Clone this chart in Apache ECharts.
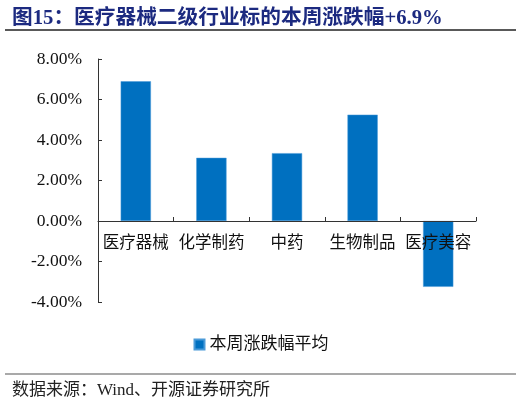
<!DOCTYPE html>
<html>
<head>
<meta charset="utf-8">
<title>医疗器械二级行业标的本周涨跌幅</title>
<script src="https://cdn.jsdelivr.net/npm/echarts@6/dist/echarts.min.js"></script>
<style>
    html, body { margin: 0; padding: 0; background: #fff; }
    #chart { width: 522px; height: 404px; }
</style>
</head>
<body>
<div id="chart"></div>
<script>
// 数据
var categories = ['医疗器械', '化学制药', '中药', '生物制品', '医疗美容'];
var weekChange = [6.9, 3.12, 3.35, 5.25, -3.25]; // 本周涨跌幅平均(%)
var seriesName = '本周涨跌幅平均';
var yTicks = { min: -4, max: 8, interval: 2 };

var serif = '"Liberation Serif", "Noto Sans CJK SC", serif';
var barColor = '#0070C0';

// 绘图区
var gridTop = 59, gridBottom = 102, chartH = 404;
var plotH = chartH - gridTop - gridBottom;
// x轴放在0值处(标签也跟着上移)
var zeroOffset = plotH * (0 - yTicks.min) / (yTicks.max - yTicks.min);

var chart = echarts.init(document.getElementById('chart'));
var option = {
    animation: false,
    title: [
        {
            text: '图15：医疗器械二级行业标的本周涨跌幅+6.9%',
            left: 7,
            top: 3,
            textStyle: { fontFamily: serif, fontSize: 20.7, fontWeight: 'bold', color: '#1C2A80' }
        },
        {
            text: '数据来源：Wind、开源证券研究所',
            left: 7,
            top: 377,
            textStyle: { fontFamily: serif, fontSize: 17, fontWeight: 'normal', color: '#222' }
        }
    ],
    // 标题下划线和来源上方的线
    graphic: [
        { type: 'line', shape: { x1: 5, y1: 30, x2: 516, y2: 30 }, style: { stroke: '#222', lineWidth: 1.5 } },
        { type: 'line', shape: { x1: 5, y1: 374, x2: 516, y2: 374 }, style: { stroke: '#555', lineWidth: 1.2 } }
    ],
    legend: {
        data: [seriesName],
        top: 331,
        left: 'center',
        icon: 'rect',
        itemWidth: 10,
        itemHeight: 10,
        itemGap: 6,
        textStyle: { fontFamily: serif, fontSize: 17, color: '#111' }
    },
    grid: { left: 98, right: 46, top: gridTop, bottom: gridBottom, containLabel: false },
    xAxis: {
        type: 'category',
        data: categories,
        z: 10,
        offset: -zeroOffset,
        axisLine: { onZero: false, lineStyle: { color: '#333', width: 1 } },
        axisTick: { show: true, inside: true, length: 4, lineStyle: { color: '#333' } },
        axisLabel: { margin: 14, fontFamily: serif, fontSize: 16.5, color: '#111', interval: 0 },
        splitLine: { show: false }
    },
    yAxis: {
        type: 'value',
        min: yTicks.min,
        max: yTicks.max,
        interval: yTicks.interval,
        axisLine: { show: true, lineStyle: { color: '#333', width: 1 } },
        axisTick: { show: true, inside: true, length: 4, lineStyle: { color: '#333' } },
        axisLabel: {
            fontFamily: serif,
            fontSize: 17.5,
            color: '#111',
            margin: 16,
            formatter: function (v) { return v.toFixed(2) + '%'; }
        },
        splitLine: { show: false }
    },
    series: [
        {
            name: seriesName,
            type: 'bar',
            data: weekChange,
            barWidth: '40%',
            itemStyle: { color: barColor, borderColor: '#4A9AD8', borderWidth: 0.5 }
        }
    ]
};
chart.setOption(option);
</script>
</body>
</html>
